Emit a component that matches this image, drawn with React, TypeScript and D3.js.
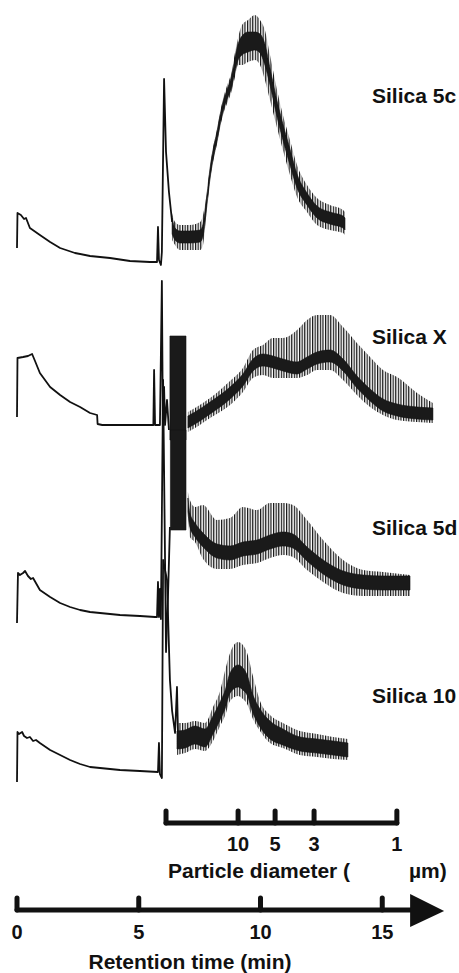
import React from "react";
import * as d3 from "d3";

const W = 459;
const H = 973;

type P = [number, number];
type B = [number, number, number] | null;

// retention time (min), detector response (a.u. above each trace's own baseline)
const s5cLine: P[] = [
  [0, 14], [0.02, 49], [0.16, 47], [0.29, 43], [0.37, 44], [0.53, 34], [0.94, 27],
  [1.36, 20], [1.77, 14], [2.38, 9], [3.0, 6], [3.82, 4], [4.64, 1], [5.46, 0],
  [5.75, 0], [5.79, 35], [5.83, 2], [5.91, -3], [5.95, 10], [6.04, 183], [6.12, 110],
  [6.24, 70], [6.37, 40],
];
const s5cCore: B[] = [
  [6.37, 28, 44], [6.49, 22, 34], [6.69, 19, 31], [7.1, 19, 31], [7.52, 20, 32],
  [7.64, 26, 38], [7.8, 57, 67], [7.93, 84, 94], [8.05, 102, 112], [8.21, 120, 130],
  [8.34, 137, 147], [8.46, 150, 160], [8.62, 162, 172], [8.83, 176, 188], [8.95, 190, 204],
  [9.08, 202, 218], [9.24, 207, 226], [9.49, 210, 230], [9.77, 212, 230], [9.98, 209, 228],
  [10.18, 197, 218], [10.39, 177, 194], [10.68, 145, 161], [10.92, 122, 138],
  [11.21, 97, 113], [11.5, 74, 88], [11.91, 57, 69], [12.32, 44, 56], [12.85, 38, 50],
  [13.39, 34, 46], [13.47, 32, 44],
];
const s5cEnv: B[] = [
  [6.37, 22, 49], [6.49, 17, 40], [6.69, 12, 37], [7.1, 12, 37], [7.52, 12, 40],
  [7.64, 17, 47], [7.8, 54, 70], [7.93, 82, 96], [8.05, 100, 114], [8.21, 118, 132],
  [8.34, 135, 149], [8.46, 147, 163], [8.62, 158, 176], [8.83, 172, 192], [8.95, 185, 209],
  [9.08, 197, 224], [9.24, 197, 237], [9.49, 200, 242], [9.77, 202, 247], [9.98, 197, 242],
  [10.18, 182, 232], [10.39, 162, 207], [10.68, 134, 172], [10.92, 112, 147],
  [11.21, 87, 122], [11.5, 65, 97], [11.91, 50, 77], [12.32, 37, 64], [12.85, 32, 57],
  [13.39, 29, 52], [13.47, 27, 50],
];

const sXLine: P[] = [
  [0, 8], [0.02, 67], [0.25, 68], [0.45, 69], [0.62, 71], [0.74, 64], [0.94, 52],
  [1.36, 38], [1.77, 30], [2.18, 23], [2.59, 18], [3.0, 12], [3.29, 10], [3.31, 1],
  [3.5, 0], [4.5, 0], [5.6, 0], [5.63, 55], [5.67, 0], [5.87, 0], [5.95, 144],
  [5.99, 0], [6.04, 38], [6.08, 0], [6.16, 25], [6.24, -5],
];
const sXCore: B[] = [
  [6.28, -15, 89], [6.94, -15, 89], null,
  [7.02, -3, 9], [7.31, 1, 13], [7.93, 11, 23], [8.75, 26, 38], [9.28, 39, 51],
  [9.69, 54, 66], [10.1, 59, 71], [10.51, 57, 69], [10.92, 54, 66], [11.5, 51, 63],
  [11.91, 56, 68], [12.32, 61, 73], [12.85, 63, 75], [13.39, 54, 66], [13.96, 37, 49],
  [14.5, 24, 36], [15.03, 14, 26], [15.61, 9, 21], [16.43, 6, 18], [17.08, 5, 17],
];
const sXEnv: B[] = [
  [7.02, -7, 13], [7.31, -3, 17], [7.93, 7, 27], [8.75, 20, 44], [9.28, 33, 57],
  [9.69, 47, 75], [10.1, 50, 80], [10.51, 47, 87], [10.92, 47, 87], [11.5, 47, 95],
  [11.91, 50, 105], [12.32, 55, 110], [12.85, 55, 110], [13.39, 45, 98], [13.96, 30, 82],
  [14.5, 18, 68], [15.03, 10, 55], [15.61, 5, 48], [16.43, 3, 32], [17.08, 2, 22],
];

const s5dLine: P[] = [
  [0, -6], [0.04, 44], [0.12, 42], [0.25, 44], [0.33, 46], [0.45, 41], [0.57, 38],
  [0.66, 39], [0.94, 27], [1.36, 20], [1.77, 14], [2.18, 10], [2.59, 7], [3.0, 5],
  [3.41, 4], [4.23, 2], [5.05, 1], [5.67, 0], [5.75, 0], [5.79, 35], [5.83, 0],
  [5.87, 28], [5.91, -2], [6.0, 237], [6.12, -35], [6.2, 20], [6.28, 90],
];
const s5dCore: B[] = [
  [6.3, 87, 187], [6.94, 87, 187], null,
  [7.02, 105, 119], [7.1, 90, 104], [7.31, 80, 94], [7.64, 70, 84], [8.21, 59, 73],
  [8.75, 57, 71], [9.28, 61, 75], [9.86, 63, 77], [10.39, 68, 82], [10.92, 71, 85],
  [11.33, 69, 83], [11.91, 56, 70], [12.57, 43, 57], [13.39, 32, 46], [14.21, 28, 42],
  [15.03, 27, 41], [16.14, 27, 41],
];
const s5dEnv: B[] = [
  [7.02, 100, 125], [7.1, 80, 117], [7.31, 75, 110], [7.64, 58, 112], [8.21, 48, 97],
  [8.75, 48, 99], [9.28, 52, 110], [9.86, 54, 107], [10.39, 59, 114], [10.92, 62, 114],
  [11.33, 60, 112], [11.91, 47, 97], [12.57, 35, 77], [13.39, 24, 57], [14.21, 21, 47],
  [15.03, 21, 45], [16.14, 21, 42],
];

const s10Line: P[] = [
  [0, -11], [0.02, 39], [0.08, 37], [0.21, 39], [0.29, 35], [0.41, 33], [0.53, 34],
  [0.66, 30], [0.78, 31], [0.94, 28], [1.36, 21], [1.77, 16], [2.18, 11], [2.59, 7],
  [3.0, 4], [3.41, 3], [4.23, 1], [5.05, 0], [5.79, -1], [5.83, 28], [5.87, -3],
  [5.95, -7], [6.0, 211], [6.16, 191], [6.28, 91], [6.37, 60], [6.49, 38], [6.53, 60],
  [6.57, 84], [6.61, 40],
];
const s10Core: B[] = [
  [6.57, 22, 40], [6.9, 23, 41], [7.31, 27, 45], [7.72, 24, 42], [8.05, 37, 55],
  [8.34, 51, 69], [8.54, 62, 80], [8.75, 78, 98], [9.08, 84, 106], [9.28, 81, 103],
  [9.45, 76, 96], [9.69, 58, 76], [9.98, 44, 62], [10.39, 32, 50], [10.92, 26, 42],
  [11.62, 20, 34], [12.32, 18, 32], [12.98, 16, 30], [13.59, 14, 28],
];
const s10Env: B[] = [
  [6.57, 16, 48], [6.9, 18, 48], [7.31, 22, 50], [7.72, 20, 48], [8.05, 30, 64],
  [8.34, 45, 80], [8.54, 55, 100], [8.75, 70, 118], [9.08, 75, 129], [9.28, 72, 126],
  [9.45, 67, 118], [9.69, 52, 95], [9.98, 40, 70], [10.39, 28, 56], [10.92, 23, 48],
  [11.62, 16, 40], [12.32, 14, 37], [12.98, 12, 34], [13.59, 11, 32],
];

const traceNames = ["Silica 5c", "Silica X", "Silica 5d", "Silica 10"];
const rtTicks = [0, 5, 10, 15];
const pdLabels = ["10", "5", "3", "1"];
const pdTimes = [9.08, 10.6, 12.2, 15.6];
const pdStart = 6.12;
const rtEnd = 17.54;

// layout
const traceBase = [262, 425, 617, 771];
const labelBase = [103, 344, 535, 703];
const traces = [
  { line: s5cLine, core: s5cCore, env: s5cEnv },
  { line: sXLine, core: sXCore, env: sXEnv },
  { line: s5dLine, core: s5dCore, env: s5dEnv },
  { line: s10Line, core: s10Core, env: s10Env },
];

const x = d3.scaleLinear().domain([0, 15]).range([17, 382.25]);
const sig = d3.scaleLinear().domain([0, 100]).range([0, -100]);

const font = "'Liberation Sans', Arial, Helvetica, sans-serif";
const ink = "#111";

export default function App() {
  const rtAxisY = 910;
  const pdAxisY = 823;
  const tipX = x(rtEnd);

  return (
    <svg
      width={W}
      height={H}
      style={{ position: "absolute", left: 0, top: 0, background: "#fff" }}
    >
      <defs>
        <pattern id="hatch" width="2.6" height="8" patternUnits="userSpaceOnUse">
          <rect width="1.2" height="8" fill={ink} />
        </pattern>
      </defs>

      {traces.map((tr, i) => {
        const base = traceBase[i];
        const line = d3
          .line<P>()
          .x((d) => x(d[0]))
          .y((d) => base + sig(d[1]));
        const area = d3
          .area<B>()
          .defined((d) => d !== null)
          .x((d) => x(d![0]))
          .y0((d) => base + sig(d![1]))
          .y1((d) => base + sig(d![2]))
          .curve(d3.curveMonotoneX);
        return (
          <g key={traceNames[i]}>
            <path d={line(tr.line) ?? ""} fill="none" stroke={ink} strokeWidth={1.8} strokeLinejoin="round" />
            <path d={area(tr.env) ?? ""} fill="url(#hatch)" />
            <path d={area(tr.core) ?? ""} fill="#1a1a1a" stroke={ink} strokeWidth={0.6} />
            <text
              x={372}
              y={labelBase[i]}
              fontFamily={font}
              fontWeight="bold"
              fontSize={21}
              fill={ink}
            >
              {traceNames[i]}
            </text>
          </g>
        );
      })}

      {/* particle diameter axis */}
      <g stroke={ink} strokeWidth={5} strokeLinecap="round">
        <line x1={x(pdStart)} x2={x(pdTimes[pdTimes.length - 1])} y1={pdAxisY} y2={pdAxisY} />
        {[pdStart, ...pdTimes].map((t) => (
          <line key={t} x1={x(t)} x2={x(t)} y1={pdAxisY} y2={pdAxisY - 12} />
        ))}
      </g>
      {pdTimes.map((t, i) => (
        <text
          key={pdLabels[i]}
          x={x(t)}
          y={851}
          textAnchor="middle"
          fontFamily={font}
          fontWeight="bold"
          fontSize={20}
          fill={ink}
        >
          {pdLabels[i]}
        </text>
      ))}
      <text x={168} y={878} fontFamily={font} fontWeight="bold" fontSize={21} fill={ink}>
        Particle diameter (
      </text>
      <text x={409} y={878} fontFamily={font} fontWeight="bold" fontSize={21} fill={ink}>
        µm)
      </text>

      {/* retention time axis */}
      <g stroke={ink} strokeWidth={5} strokeLinecap="round">
        <line x1={x(0)} x2={tipX - 30} y1={rtAxisY} y2={rtAxisY} />
        {rtTicks.map((t) => (
          <line key={t} x1={x(t)} x2={x(t)} y1={rtAxisY} y2={rtAxisY - 12} />
        ))}
      </g>
      <polygon
        points={`${tipX - 34},${rtAxisY - 16} ${tipX},${rtAxisY + 1} ${tipX - 34},${rtAxisY + 17}`}
        fill={ink}
      />
      {rtTicks.map((t) => (
        <text
          key={t}
          x={x(t)}
          y={939}
          textAnchor="middle"
          fontFamily={font}
          fontWeight="bold"
          fontSize={20}
          fill={ink}
        >
          {t}
        </text>
      ))}
      <text
        x={190}
        y={969}
        textAnchor="middle"
        fontFamily={font}
        fontWeight="bold"
        fontSize={21}
        fill={ink}
      >
        Retention time (min)
      </text>
    </svg>
  );
}
